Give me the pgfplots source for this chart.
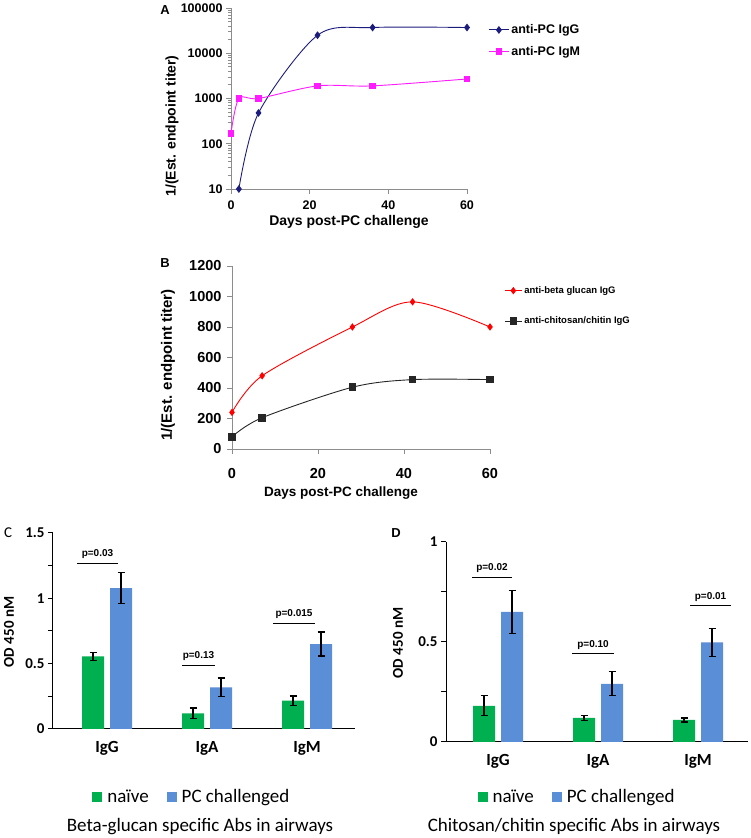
\documentclass[border=0pt]{standalone}
\usepackage{pgfplots}
\pgfplotsset{compat=1.18}
\usepackage{fontspec}
\setmainfont{Carlito}
\newfontfamily\arial{Liberation Sans}

\definecolor{igg}{HTML}{1C1C7E}
\definecolor{igm}{HTML}{FF1AFF}
\definecolor{grn}{HTML}{00B050}
\definecolor{blu}{HTML}{5A8ED6}
\definecolor{axgray}{HTML}{8C8C8C}

\tikzset{
  pline/.style={black, line width=1pt},
  ptext/.style={above=1pt, font=\arial\bfseries\fontsize{10}{10}\selectfont},
}

\pgfplotsset{
  linepanel/.style={
    scale only axis, clip=false,
    axis x line=bottom, axis y line=left,
    axis line style={-, axgray, line width=0.8pt},
    tick style={axgray, line width=0.8pt},
    tick align=outside, major tick length=5pt,
    /pgf/number format/assume math mode=true,
    /pgf/number format/1000 sep={},
    legend cell align=left,
  },
  barpanel/.style={
    scale only axis,
    axis x line=bottom, axis y line=left,
    axis line style={-, black, line width=1pt},
    ytick style={black, line width=1pt},
    tick align=outside, major tick length=5pt, minor tick length=5pt,
    xtick={0,1,2}, xticklabels={IgG,IgA,IgM},
    xtick style={draw=none},
    ymin=0,
    ybar=6pt, bar width=22pt,
    yticklabel style={font=\bfseries\fontsize{15}{15}\selectfont},
    xticklabel style={font=\bfseries\fontsize{17}{17}\selectfont, yshift=-4pt},
    /pgf/number format/assume math mode=true,
    legend columns=2,
    legend style={draw=none, fill=none, font=\fontsize{19}{19}\selectfont,
      /tikz/every odd column/.append style={column sep=3pt},
      /tikz/every even column/.append style={column sep=16pt}},
  },
  sq/.style={draw=none, legend image code/.code={\fill[##1] (0pt,-5pt) rectangle (10pt,5pt);},
    error bars/.cd, y dir=both, y explicit,
    error bar style={black, line width=1.2pt},
    error mark options={rotate=90, black, mark size=3.5pt, line width=1.2pt}},
}

\begin{document}
\begin{tikzpicture}
\useasboundingbox (0pt,0pt) rectangle (750pt,838pt);

% ---------------- A ----------------
\begin{axis}[linepanel,
    at={(231pt,649pt)}, anchor=south west,
    width=236pt, height=181pt,
    ymode=log, xmin=0, xmax=60, ymin=10, ymax=100000,
    xtick={0,20,40,60}, ytick={10,100,1000,10000,100000},
    log ticks with fixed point,
    ticklabel style={font=\arial\bfseries\fontsize{12.5}{12.5}\selectfont},
    xticklabel style={yshift=-3pt},
    legend style={at={(rel axis cs:1.09,0.92)}, anchor=north west, draw=none, fill=none,
      inner sep=0pt, font=\arial\bfseries\fontsize{12.5}{12.5}\selectfont, row sep=7pt},
    legend image code/.code={\draw[mark repeat=2,mark phase=2] plot coordinates {(0pt,0pt)(10pt,0pt)(20pt,0pt)};},
  ]
  \addplot[igg, line width=0.9pt, smooth, tension=0.5, mark=diamond*, mark size=3.2pt] coordinates {
    (2,10) (7,480) (22,25000) (36,37000) (60,37000)};
  \addlegendentry{anti-PC IgG}
  \addplot[igm, line width=0.9pt, smooth, tension=0.5, mark=square*, mark size=2.8pt] coordinates {
    (0,170) (2,1000) (7,1000) (22,1900) (36,1900) (60,2700)};
  \addlegendentry{anti-PC IgM}
\end{axis}
\node[font=\arial\bfseries\fontsize{13}{13}\selectfont] at (165pt,828pt) {A};
\node[rotate=90, font=\arial\bfseries\fontsize{14}{14}\selectfont] at (172pt,712pt) {1/(Est. endpoint titer)};
\node[font=\arial\bfseries\fontsize{14}{14}\selectfont] at (349pt,616pt) {Days post-PC challenge};

% ---------------- B ----------------
\begin{axis}[linepanel,
    at={(232pt,389pt)}, anchor=south west,
    width=258pt, height=183pt,
    xmin=0, xmax=60, ymin=0, ymax=1200,
    xtick={0,20,40,60}, ytick={0,200,...,1200},
    ticklabel style={font=\arial\bfseries\fontsize{14.5}{14.5}\selectfont},
    xticklabel style={yshift=-11pt},
    yticklabel style={xshift=-2pt},
    legend style={at={(rel axis cs:1.055,0.90)}, anchor=north west, draw=none, fill=none,
      inner sep=0pt, font=\arial\bfseries\fontsize{9.5}{9.5}\selectfont, row sep=18pt},
    legend image code/.code={\draw[mark repeat=2,mark phase=2] plot coordinates {(0pt,0pt)(8.5pt,0pt)(17pt,0pt)};},
  ]
  \addplot[red, line width=0.9pt, smooth, tension=0.5, mark=diamond*, mark size=3pt] coordinates {
    (0,240) (7,480) (28,800) (42,965) (60,800)};
  \addlegendentry{anti-beta glucan IgG}
  \addplot[black!85, line width=0.9pt, smooth, tension=0.5, mark=square*, mark size=3.3pt] coordinates {
    (0,80) (7,205) (28,405) (42,455) (60,455)};
  \addlegendentry{anti-chitosan/chitin IgG}
\end{axis}
\node[font=\arial\bfseries\fontsize{13}{13}\selectfont] at (165pt,575pt) {B};
\node[rotate=90, font=\arial\bfseries\fontsize{15}{15}\selectfont] at (168pt,473pt) {1/(Est. endpoint titer)};
\node[font=\arial\bfseries\fontsize{13.5}{13.5}\selectfont] at (341pt,345pt) {Days post-PC challenge};

% ---------------- C ----------------
\begin{axis}[barpanel,
    at={(53pt,109pt)}, anchor=south west,
    width=302pt, height=196pt,
    xmin=-0.54, xmax=2.48, ymax=1.5,
    ytick={0,0.5,1,1.5}, minor ytick={0.25,0.75,1.25},
    legend style={at={(rel axis cs:0.46,-0.347)}, anchor=center},
  ]
  \addplot[fill=grn, sq] coordinates {
    (0,0.556) +- (0,0.03)
    (1,0.12)  +- (0,0.041)
    (2,0.217) +- (0,0.035)};
  \addlegendentry{naïve}
  \addplot[fill=blu, sq] coordinates {
    (0,1.079) +- (0,0.12)
    (1,0.319) +- (0,0.071)
    (2,0.65)  +- (0,0.092)};
  \addlegendentry{PC challenged}
  \draw[pline] (axis cs:-0.30,1.265) -- (axis cs:0.11,1.265) node[midway, ptext] {p=0.03};
  \draw[pline, line width=0.7pt] (axis cs:0.75,0.49) -- (axis cs:1.08,0.49) node[midway, ptext] {p=0.13};
  \draw[pline] (axis cs:1.66,0.81) -- (axis cs:2.08,0.81) node[midway, ptext] {p=0.015};
\end{axis}
\node[font=\fontsize{15}{15}\selectfont] at (8pt,305pt) {C};
\node[rotate=90, font=\bfseries\fontsize{15}{15}\selectfont] at (9pt,206pt) {OD 450 nM};
\node[font=\fontsize{19}{19}\selectfont] at (200pt,11pt) {Beta-glucan specific Abs in airways};

% ---------------- D ----------------
\begin{axis}[barpanel,
    at={(446pt,96pt)}, anchor=south west,
    width=302pt, height=200pt,
    xmin=-0.52, xmax=2.50, ymax=1,
    ytick={0,0.5,1}, minor ytick={0.25,0.75},
    legend style={at={(rel axis cs:0.434,-0.275)}, anchor=center},
  ]
  \addplot[fill=grn, sq] coordinates {
    (0,0.181) +- (0,0.05)
    (1,0.12)  +- (0,0.012)
    (2,0.11)  +- (0,0.01)};
  \addlegendentry{naïve}
  \addplot[fill=blu, sq] coordinates {
    (0,0.651) +- (0,0.108)
    (1,0.291) +- (0,0.06)
    (2,0.498) +- (0,0.07)};
  \addlegendentry{PC challenged}
  \draw[pline] (axis cs:-0.26,0.822) -- (axis cs:0.14,0.822) node[midway, ptext] {p=0.02};
  \draw[pline] (axis cs:0.74,0.44) -- (axis cs:1.16,0.44) node[midway, ptext] {p=0.10};
  \draw[pline] (axis cs:1.92,0.68) -- (axis cs:2.33,0.68) node[midway, ptext] {p=0.01};
\end{axis}
\node[font=\arial\bfseries\fontsize{13}{13}\selectfont] at (396pt,305pt) {D};
\node[rotate=90, font=\bfseries\fontsize{15}{15}\selectfont] at (398pt,195pt) {OD 450 nM};
\node[font=\fontsize{19}{19}\selectfont] at (574pt,12pt) {Chitosan/chitin specific Abs in airways};
\end{tikzpicture}
\end{document}
